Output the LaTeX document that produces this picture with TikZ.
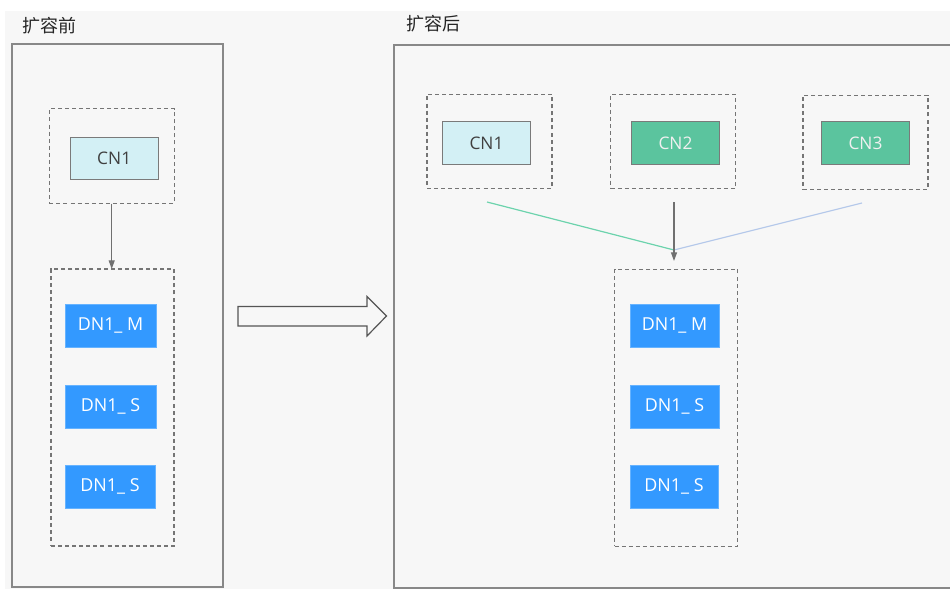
\documentclass[tikz,border=0pt]{standalone}
\usepackage{fontspec}
\setmainfont{Open Sans}
\newfontfamily\cjk{Noto Sans CJK SC}
\usetikzlibrary{arrows.meta}
\definecolor{bgc}{HTML}{F7F7F7}
\definecolor{panelc}{HTML}{888888}
\definecolor{dashc}{HTML}{757575}
\definecolor{cnlight}{HTML}{D3F0F5}
\definecolor{cngreen}{HTML}{5BC49E}
\definecolor{boxborder}{HTML}{7A7A7A}
\definecolor{dnblue}{HTML}{3399FF}
\definecolor{dnborder}{HTML}{66B3FF}
\definecolor{txtdark}{HTML}{404040}
\definecolor{glinec}{HTML}{6CD3AD}
\definecolor{blinec}{HTML}{B4C8EA}
\definecolor{arrowc}{HTML}{707070}
\definecolor{bigarrowc}{HTML}{555555}
\tikzset{
  sz/.style 2 args={minimum width=#1*0.75pt, minimum height=#2*0.75pt, inner sep=0pt, outer sep=0pt},
  panel/.style={draw=panelc, line width=1.1pt, rectangle},
  dbox/.style={draw=dashc, line width=0.8pt, dash pattern=on 3pt off 2.3pt, rectangle},
  cnl/.style={draw=boxborder, line width=0.9pt, fill=cnlight, text=txtdark, font=\fontsize{13pt}{14pt}\selectfont},
  cng/.style={draw=boxborder, line width=0.9pt, fill=cngreen, text=white!94!black, font=\fontsize{13pt}{14pt}\selectfont},
  dn/.style={draw=dnborder, line width=0.5pt, fill=dnblue, text=white, font=\fontsize{13.4pt}{14pt}\selectfont},
  titletext/.style={text=black!85, font=\cjk\fontsize{13.5pt}{15pt}\selectfont, inner sep=0pt},
  conn/.style={draw=arrowc, line width=0.9pt, -{Triangle[length=6.5pt,width=4.5pt]}},
  gline/.style={draw=glinec, line width=0.9pt},
  bline/.style={draw=blinec, line width=0.9pt},
  bigarrow/.style={draw=bigarrowc, line width=0.9pt, fill=bgc, line join=miter}
}
\begin{document}
\begin{tikzpicture}[x=0.75pt,y=-0.75pt]
\useasboundingbox (0,0) rectangle (950,589);
\fill[bgc] (5,11) rectangle (950,589);

% panels
\node[panel, sz={211}{543}] (lpanel) at (117.5,315.5) {};
\node[panel, sz={566}{543}] (rpanel) at (677,316.5) {};

% titles
\node[titletext] (ltitle) at (49.5,25.5) {扩容前};
\node[titletext] (rtitle) at (433.5,24) {扩容后};

% left side
\node[dbox, sz={124.7}{95}] (lcnd) at (111.7,156) {};
\node[cnl, sz={88}{42}] (lcn1) at (114.2,158.2) {CN1};
\node[dbox, sz={123}{277}] (ldnd) at (112.5,407.5) {};
\node[dn, sz={91}{43}] (ldn1) at (110.5,325.5) {DN1\_ M};
\node[dn, sz={91}{43}] (ldn2) at (110.5,406.8) {DN1\_ S};
\node[dn, sz={90}{43}] (ldn3) at (110,486.8) {DN1\_ S};
\draw[conn] (lcnd.south) -- (lcnd.south |- ldnd.north);

% big arrow
\draw[bigarrow] (238,306.5) -- (367,306.5) -- (367,296.5) -- (386.5,316) -- (367,336) -- (367,326) -- (238,326) -- cycle;

% right side
\node[dbox, sz={125}{94}] (rcn1d) at (489.5,141.2) {};
\node[dbox, sz={125}{94.5}] (rcn2d) at (673.2,141.3) {};
\node[dbox, sz={125}{94.3}] (rcn3d) at (865.5,142.2) {};
\node[cnl, sz={88}{43}] (rcn1) at (486.5,143.3) {CN1};
\node[cng, sz={88}{43}] (rcn2) at (675.5,143.2) {CN2};
\node[cng, sz={88}{43}] (rcn3) at (865.5,143.3) {CN3};
\node[dbox, sz={123}{277}] (rdnd) at (676.2,407.7) {};
\node[dn, sz={89}{43}] (rdn1) at (674.5,325.5) {DN1\_ M};
\node[dn, sz={89}{43}] (rdn2) at (674.5,406.8) {DN1\_ S};
\node[dn, sz={88}{43}] (rdn3) at (674,486.8) {DN1\_ S};

\coordinate (meet) at (674,250);
\coordinate (gs) at (487,202);
\coordinate (bs) at (862,203);
\coordinate (as) at (674,202);
\coordinate (ae) at (674,261);
\draw[gline] (gs) -- (meet);
\draw[bline] (bs) -- (meet);
\draw[conn] (as) -- (ae);
\end{tikzpicture}
\end{document}
